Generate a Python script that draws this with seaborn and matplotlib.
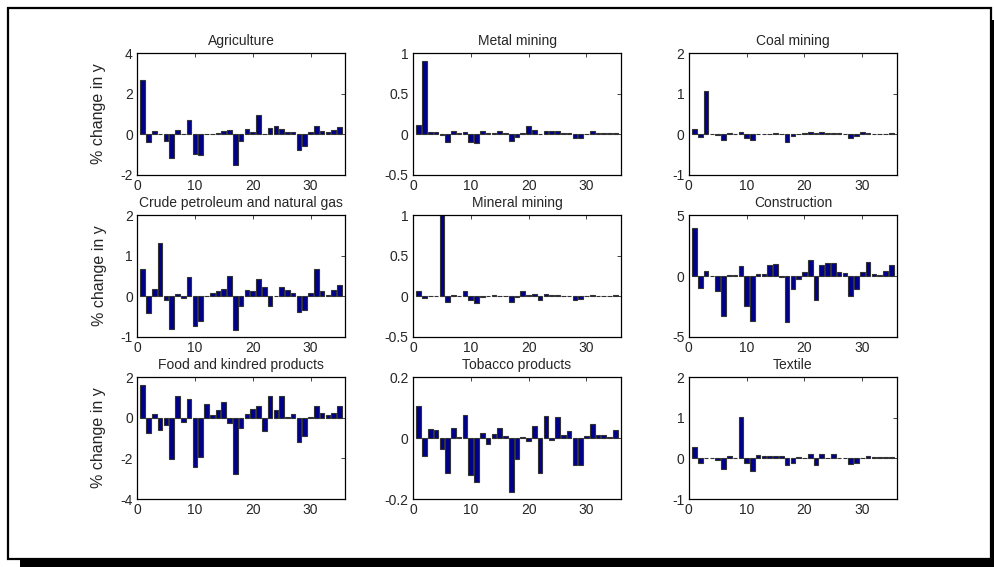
import numpy as np
import pandas as pd
import matplotlib
matplotlib.use("Agg")
import matplotlib.pyplot as plt
from matplotlib.patches import Rectangle
from matplotlib.ticker import FuncFormatter
import seaborn as sns

# sector index on the x axis
sectors = list(range(1, 36))

titles = ["Agriculture", "Metal mining", "Coal mining",
          "Crude petroleum and natural gas", "Mineral mining", "Construction",
          "Food and kindred products", "Tobacco products", "Textile"]

agriculture = [2.68, -0.40, 0.16, 0.03, -0.33, -1.18, 0.21, 0.00, 0.69, -0.99,
               -1.04, 0.03, 0.03, 0.08, 0.15, 0.20, -1.51, -0.33, 0.26, 0.10,
               0.95, 0.00, 0.33, 0.43, 0.26, 0.10, 0.10, -0.77, -0.56, 0.10,
               0.43, 0.16, 0.10, 0.20, 0.36]
metal_mining = [0.12, 0.90, 0.025, 0.025, -0.01, -0.10, 0.035, 0.01, 0.025, -0.10,
                -0.11, 0.035, 0.01, 0.01, 0.035, 0.01, -0.08, -0.03, 0.01, 0.105,
                0.05, 0.00, 0.045, 0.035, 0.035, 0.01, 0.01, -0.045, -0.045, 0.00,
                0.035, 0.01, 0.01, 0.01, 0.02]
coal_mining = [0.12, -0.06, 1.07, 0.00, -0.02, -0.13, 0.02, 0.00, 0.06, -0.10,
               -0.13, 0.00, 0.00, 0.01, 0.03, 0.01, -0.19, -0.04, 0.01, 0.03,
               0.05, 0.03, 0.06, 0.04, 0.04, 0.02, 0.01, -0.08, -0.05, 0.06,
               0.03, 0.01, 0.01, 0.01, 0.03]
crude_petroleum = [0.68, -0.41, 0.18, 1.31, -0.08, -0.80, 0.05, -0.03, 0.48, -0.72,
                   -0.61, 0.00, 0.08, 0.13, 0.18, 0.51, -0.84, -0.25, 0.16, 0.13,
                   0.42, 0.23, -0.23, 0.00, 0.23, 0.16, 0.08, -0.39, -0.34, 0.08,
                   0.68, 0.13, 0.03, 0.16, 0.29]
mineral_mining = [0.07, -0.02, 0.01, 0.00, 0.998, -0.07, 0.02, 0.00, 0.06, -0.05,
                  -0.08, -0.01, 0.01, 0.02, 0.01, 0.01, -0.07, -0.01, 0.06, 0.02,
                  0.03, -0.04, 0.03, 0.02, 0.02, 0.01, 0.01, -0.04, -0.03, 0.01,
                  0.02, 0.01, 0.01, 0.00, 0.02]
construction = [3.96, -1.00, 0.45, 0.00, -1.27, -3.26, 0.05, 0.05, 0.81, -2.45,
                -3.68, 0.17, 0.17, 0.89, 0.99, -0.10, -3.77, -1.08, -0.25, 0.36,
                1.35, -1.99, 0.89, 1.08, 1.08, 0.36, 0.27, -1.60, -1.10, 0.36,
                1.16, 0.17, 0.05, 0.45, 0.89]
food = [1.62, -0.75, 0.20, -0.62, -0.37, -2.03, 1.08, -0.20, 0.90, -2.42,
        -1.95, 0.70, 0.12, 0.40, 0.78, -0.25, -2.75, -0.48, 0.20, 0.45,
        0.57, -0.63, 1.08, 0.40, 1.08, 0.05, 0.20, -1.17, -0.92, 0.05,
        0.57, 0.25, 0.12, 0.25, 0.57]
tobacco = [0.105, -0.060, 0.029, 0.026, -0.037, -0.115, 0.033, 0.002, 0.076, -0.122,
           -0.143, 0.018, -0.019, 0.014, 0.032, 0.007, -0.176, -0.069, 0.003, -0.008,
           0.040, -0.115, 0.072, -0.005, 0.068, 0.011, 0.023, -0.087, -0.087, 0.007,
           0.047, 0.011, 0.011, 0.003, 0.025]
textile = [0.28, -0.11, 0.02, 0.00, -0.05, -0.25, 0.05, 0.00, 1.02, -0.12,
           -0.30, 0.08, 0.05, 0.05, 0.05, 0.07, -0.16, -0.11, 0.04, 0.02,
           0.10, -0.16, 0.10, 0.02, 0.12, 0.02, 0.00, -0.14, -0.11, 0.00,
           0.07, 0.03, 0.03, 0.03, 0.04]

series = [agriculture, metal_mining, coal_mining, crude_petroleum, mineral_mining,
          construction, food, tobacco, textile]

ylims = [(-2, 4), (-0.5, 1), (-1, 2), (-1, 2), (-0.5, 1), (-5, 5), (-4, 2), (-0.2, 0.2), (-1, 2)]
yticks = [[-2, 0, 2, 4], [-0.5, 0, 0.5, 1], [-1, 0, 1, 2], [-1, 0, 1, 2], [-0.5, 0, 0.5, 1],
          [-5, 0, 5], [-4, -2, 0, 2], [-0.2, 0, 0.2], [-1, 0, 1, 2]]

sns.set_style("white")
plt.rcParams["font.family"] = ["Liberation Sans", "DejaVu Sans"]
plt.rcParams["axes.unicode_minus"] = False
plt.rcParams["xtick.direction"] = "in"
plt.rcParams["ytick.direction"] = "in"

fig, axes = plt.subplots(3, 3, figsize=(9.95, 5.67), dpi=100)
fig.subplots_adjust(left=0.1377, right=0.9015, top=0.9065, bottom=0.1199,
                    wspace=0.325, hspace=0.33)

# frame with drop shadow around the whole figure
fig.patches.append(Rectangle((20 / 995, 0), 975 / 995, 547 / 567, transform=fig.transFigure,
                             facecolor="black", edgecolor="none", zorder=-20))
fig.patches.append(Rectangle((8 / 995, 1 - 559 / 567), 983 / 995, 551 / 567,
                             transform=fig.transFigure, facecolor="white",
                             edgecolor="black", linewidth=1.6, zorder=-10))

fmt = FuncFormatter(lambda v, p: "%g" % v)

for i, ax in enumerate(axes.flat):
    df = pd.DataFrame({"sector": sectors, "change": series[i]})
    sns.barplot(data=df, x="sector", y="change", native_scale=True, width=0.8,
                color="#00008C", saturation=1, edgecolor="#333333", linewidth=0.8,
                errorbar=None, ax=ax)
    ax.set_xlim(0, 36)
    ax.set_ylim(*ylims[i])
    ax.set_xticks([0, 10, 20, 30])
    ax.set_yticks(yticks[i])
    ax.yaxis.set_major_formatter(fmt)
    ax.tick_params(axis="both", labelsize=10, length=3, width=0.6,
                   top=True, right=True, pad=3)
    for s in ax.spines.values():
        s.set_linewidth(0.9)
        s.set_color("black")
    ax.set_title(titles[i], fontsize=10, pad=6)
    ax.set_xlabel("")
    if i % 3 == 0:
        ax.set_ylabel("% change in y", fontsize=11.5, labelpad=10)
    else:
        ax.set_ylabel("")

fig.savefig("out.png", dpi=100)
